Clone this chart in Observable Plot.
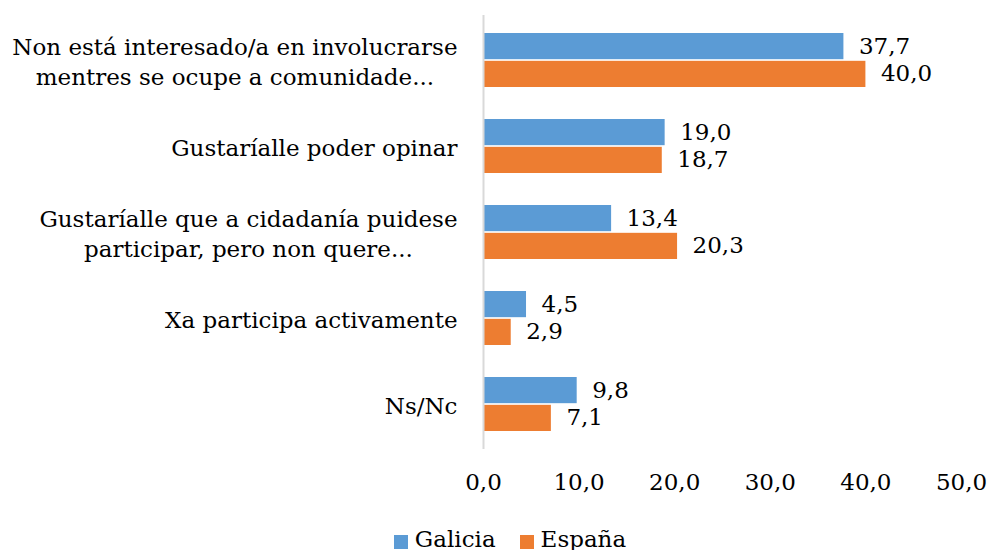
<!DOCTYPE html>
<html><head><meta charset="utf-8">
<script src="https://cdn.jsdelivr.net/npm/d3@7"></script>
<script src="https://cdn.jsdelivr.net/npm/@observablehq/plot@0.6"></script>
<style>
body{margin:0;background:#fff;font-family:"DejaVu Serif",serif;}
#legend{display:flex;justify-content:center;align-items:center;padding-left:32px;padding-top:22px;box-sizing:border-box;height:45px;font-size:23px;color:#000;}
#legend .item{display:flex;align-items:center;margin:0 12px;}
#legend .sw{width:14px;height:14px;margin-right:7px;margin-top:6px;}
</style></head>
<body><div id="chart"></div><div id="legend"></div>
<script>
const categories = ["c1","c2","c3","c4","c5"];
const categoryLabels = [
  "Non está interesado/a en involucrarse\nmentres se ocupe a comunidade...",
  "Gustaríalle poder opinar",
  "Gustaríalle que a cidadanía puidese\nparticipar, pero non quere...",
  "Xa participa activamente",
  "Ns/Nc"
];
const seriesNames = ["Galicia", "España"];
const galicia = [37.7, 19.0, 13.4, 4.5, 9.8];
const espana = [40.0, 18.7, 20.3, 2.9, 7.1];
const xTicks = [0, 10, 20, 30, 40, 50];
const colors = ["#5B9BD5", "#ED7D31"];

const fmt = v => v.toFixed(1).replace(".", ",");
const rowsG = categories.map((c, i) => ({cat: c, series: seriesNames[0], value: galicia[i]}));
const rowsE = categories.map((c, i) => ({cat: c, series: seriesNames[1], value: espana[i]}));

const W = 988, H = 505, mt = 15, mb = 56, ml = 483, mr = 27;
const pInner = 0.373, pOuter = 0.186;
const step = (H - mt - mb) / (categories.length - pInner + 2 * pOuter);
const bw = step * (1 - pInner);
const half = bw / 2;
const FONT = "DejaVu Serif";
const FS = 23;

const ctx = document.createElement("canvas").getContext("2d");
ctx.font = `${FS}px "${FONT}"`;
const labelGap = 26;

const labelMarks = categories.map((c, i) => {
  const lines = categoryLabels[i].split("\n");
  const w = Math.max(...lines.map(l => ctx.measureText(l).width));
  return Plot.text([c], {
    y: d => d, frameAnchor: "left", textAnchor: "middle",
    dx: -(labelGap + w / 2), text: () => categoryLabels[i],
    lineHeight: 1.3, fontSize: FS, fill: "#000"
  });
});

const chart = Plot.plot({
  width: W, height: H,
  marginLeft: ml, marginRight: mr, marginTop: mt, marginBottom: mb,
  style: {fontFamily: FONT, fontSize: FS + "px", color: "#000", background: "#fff"},
  x: {domain: [0, 50], ticks: xTicks},
  y: {domain: categories, paddingInner: pInner, paddingOuter: pOuter, axis: null},
  marks: [
    Plot.barX(rowsG, {x: "value", y: "cat", fill: colors[0], insetBottom: half + 0.6}),
    Plot.barX(rowsE, {x: "value", y: "cat", fill: colors[1], insetTop: half + 0.6}),
    Plot.ruleX([0], {stroke: "#d9d9d9", strokeWidth: 2}),
    Plot.text(rowsG, {x: "value", y: "cat", dy: -half / 2, dx: 15, textAnchor: "start", text: d => fmt(d.value), fontSize: FS, fill: "#000"}),
    Plot.text(rowsE, {x: "value", y: "cat", dy: half / 2, dx: 15, textAnchor: "start", text: d => fmt(d.value), fontSize: FS, fill: "#000"}),
    Plot.axisX({anchor: "bottom", ticks: xTicks, tickSize: 0, tickPadding: 24, tickFormat: fmt, label: null, fontSize: FS}),
    ...labelMarks
  ]
});
document.getElementById("chart").appendChild(chart);

const legend = document.getElementById("legend");
seriesNames.forEach((s, i) => {
  const item = document.createElement("div");
  item.className = "item";
  const sw = document.createElement("span");
  sw.className = "sw";
  sw.style.background = colors[i];
  const t = document.createElement("span");
  t.textContent = s;
  item.appendChild(sw); item.appendChild(t);
  legend.appendChild(item);
});
</script>
</body></html>
